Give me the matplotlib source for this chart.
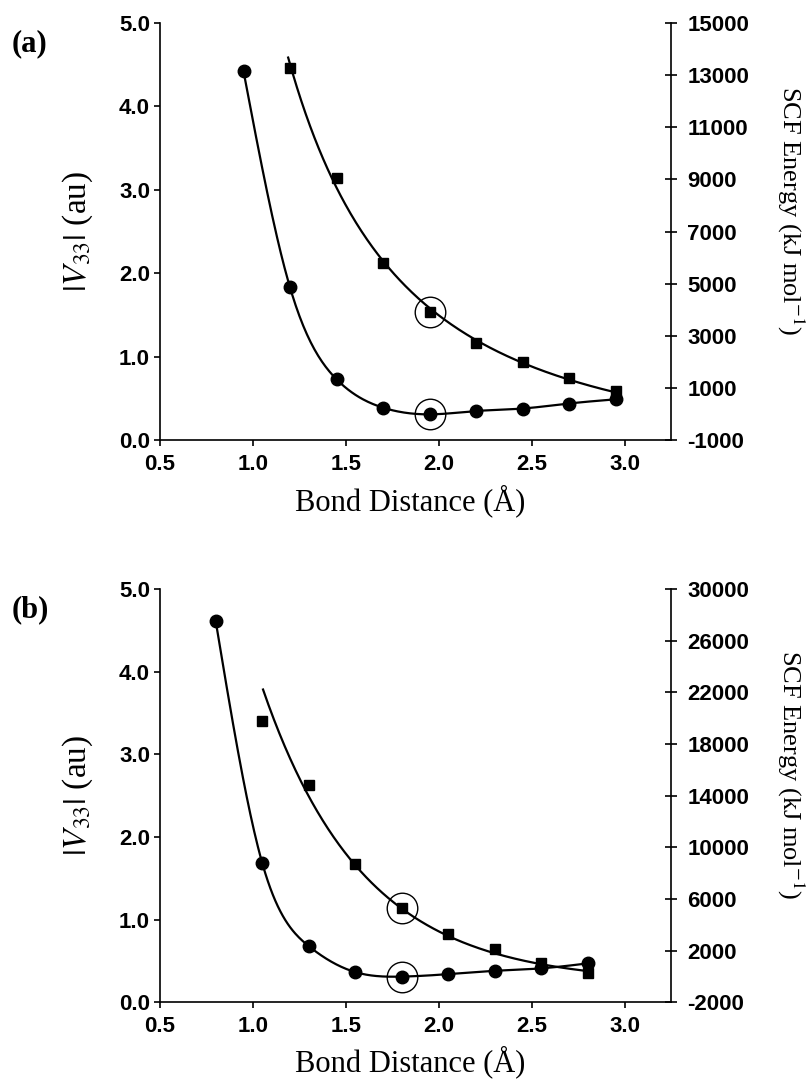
import numpy as np
import matplotlib
matplotlib.use("Agg")
import matplotlib.pyplot as plt
from matplotlib.ticker import FormatStrFormatter
from matplotlib.font_manager import FontProperties

plt.rcParams['axes.unicode_minus'] = False
plt.rcParams['mathtext.fontset'] = 'stix'

# ---- data ----
# panel (a)
a_v33_x = [0.95, 1.20, 1.45, 1.70, 1.95, 2.20, 2.45, 2.70, 2.95]
a_v33_y = [4.42, 1.83, 0.73, 0.39, 0.31, 0.35, 0.38, 0.44, 0.49]
a_scf_x = [1.20, 1.45, 1.70, 1.95, 2.20, 2.45, 2.70, 2.95]
a_scf_y = [13280, 9050, 5780, 3900, 2710, 2010, 1380, 890]
a_marked_x = 1.95

# panel (b)
b_v33_x = [0.80, 1.05, 1.30, 1.55, 1.80, 2.05, 2.30, 2.55, 2.80]
b_v33_y = [4.62, 1.69, 0.68, 0.365, 0.31, 0.34, 0.38, 0.41, 0.47]
b_scf_x = [1.05, 1.30, 1.55, 1.80, 2.05, 2.30, 2.55, 2.80]
b_scf_y = [19820, 14830, 8690, 5270, 3310, 2100, 1040, 260]
b_marked_x = 1.80

x_ticks = [0.5, 1.0, 1.5, 2.0, 2.5, 3.0]
v33_ticks = [0.0, 1.0, 2.0, 3.0, 4.0, 5.0]
a_scf_ticks = [-1000, 1000, 3000, 5000, 7000, 9000, 11000, 13000, 15000]
b_scf_ticks = [-2000, 2000, 6000, 10000, 14000, 18000, 22000, 26000, 30000]


def natural_spline(x, y, n=300):
    """Natural cubic spline through the points."""
    x = np.asarray(x, float)
    y = np.asarray(y, float)
    m = len(x)
    h = np.diff(x)
    A = np.zeros((m, m))
    r = np.zeros(m)
    A[0, 0] = A[-1, -1] = 1.0
    for i in range(1, m - 1):
        A[i, i - 1] = h[i - 1]
        A[i, i] = 2 * (h[i - 1] + h[i])
        A[i, i + 1] = h[i]
        r[i] = 3 * ((y[i + 1] - y[i]) / h[i] - (y[i] - y[i - 1]) / h[i - 1])
    c = np.linalg.solve(A, r)
    b = (y[1:] - y[:-1]) / h - h * (2 * c[:-1] + c[1:]) / 3
    d = (c[1:] - c[:-1]) / (3 * h)
    xs = np.linspace(x[0], x[-1], n)
    idx = np.clip(np.searchsorted(x, xs) - 1, 0, m - 2)
    t = xs - x[idx]
    ys = y[idx] + b[idx] * t + c[idx] * t ** 2 + d[idx] * t ** 3
    return xs, ys


def inv_poly_fit(x, y, n=300):
    """Quadratic least-squares fit in 1/x."""
    x = np.asarray(x, float)
    coeffs = np.polyfit(1.0 / x, y, 2)
    xs = np.linspace(x.min() - 0.01, x.max(), n)
    return xs, np.polyval(coeffs, 1.0 / xs)


def log_exp_fit(x, y, n=300, shift=500.0):
    """Exponential decay fitted in log space."""
    x = np.asarray(x, float)
    y = np.asarray(y, float)
    coeffs = np.polyfit(x, np.log(y + shift), 1)
    xs = np.linspace(x.min() + 0.005, x.max(), n)
    return xs, np.exp(np.polyval(coeffs, xs)) - shift


def draw_panel(ax, vx, vy, sx, sy, marked_x, scf_lim, scf_ticks, tag, fit):
    ax2 = ax.twinx()

    xs, ys = natural_spline(vx, vy)
    ax.plot(xs, ys, color='black', lw=1.6, zorder=3)
    ax.plot(vx, vy, 'o', color='black', ms=9, zorder=4)

    xf, yf = fit(sx, sy)
    ax2.plot(xf, yf, color='black', lw=1.6, zorder=3)
    ax2.plot(sx, sy, 's', color='black', ms=7.5, zorder=4)

    # rings around the marked points
    ax.plot([marked_x], [vy[vx.index(marked_x)]], 'o', mfc='none', mec='black',
            mew=1.0, ms=22, zorder=5)
    ax2.plot([marked_x], [sy[sx.index(marked_x)]], 'o', mfc='none', mec='black',
             mew=1.0, ms=22, zorder=5)

    ax.set_xlim(0.5, 3.25)
    ax.set_ylim(0, 5)
    ax2.set_ylim(*scf_lim)
    ax.set_xticks(x_ticks)
    ax.set_yticks(v33_ticks)
    ax2.set_yticks(scf_ticks)
    ax.xaxis.set_major_formatter(FormatStrFormatter('%.1f'))
    ax.yaxis.set_major_formatter(FormatStrFormatter('%.1f'))

    for a in (ax, ax2):
        a.spines['top'].set_visible(False)
        for s in a.spines.values():
            s.set_linewidth(1.2)
    ax2.spines['bottom'].set_visible(False)
    ax2.spines['left'].set_visible(False)
    ax.spines['right'].set_visible(False)

    tick_font = FontProperties(family='Liberation Sans', weight='bold', size=16)
    ax.tick_params(axis='y', direction='out', length=4, width=1.2, pad=3)
    ax.tick_params(axis='x', direction='out', length=4, width=1.2, pad=6)
    ax2.tick_params(axis='y', direction='inout', length=9, width=1.2, pad=7)
    for lab in ax.get_xticklabels() + ax.get_yticklabels() + ax2.get_yticklabels():
        lab.set_fontproperties(tick_font)

    ax.set_xlabel('Bond Distance (Å)', family='Liberation Serif', size=22,
                  va='center', ha='center')
    ax.xaxis.set_label_coords(0.49, -0.145)
    ax.set_ylabel(r'$|V_{33}|$ (au)', family='Liberation Serif', size=24,
                  va='center', ha='center')
    ax.yaxis.set_label_coords(-0.16, 0.5)
    ax2.set_ylabel(r'SCF Energy (kJ mol$^{-1}$)', family='Liberation Serif', size=19,
                   rotation=270, va='center', ha='center')
    ax2.yaxis.set_label_coords(1.232, 0.55)
    ax.text(-0.29, 0.95, tag, transform=ax.transAxes, family='Liberation Serif',
            weight='bold', size=22, ha='left', va='center')
    return ax2


fig = plt.figure(figsize=(8.07, 10.87), dpi=100)
ax_a = fig.add_axes([0.198, 0.595, 0.634, 0.384])
ax_b = fig.add_axes([0.198, 0.078, 0.634, 0.380])

draw_panel(ax_a, a_v33_x, a_v33_y, a_scf_x, a_scf_y, a_marked_x,
           (-1000, 15000), a_scf_ticks, '(a)', inv_poly_fit)
draw_panel(ax_b, b_v33_x, b_v33_y, b_scf_x, b_scf_y, b_marked_x,
           (-2000, 30000), b_scf_ticks, '(b)', log_exp_fit)

fig.savefig('out.png', dpi=100)
